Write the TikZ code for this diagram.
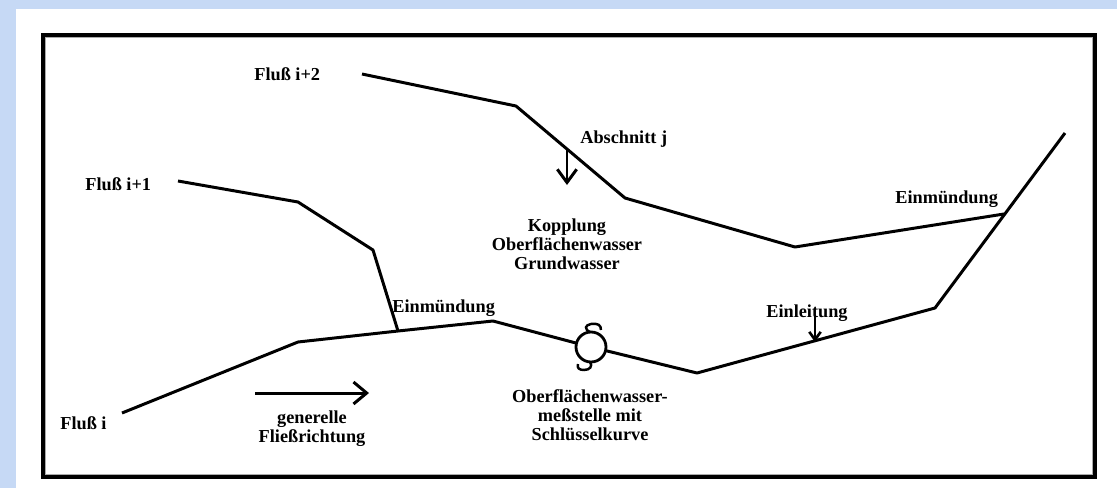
\documentclass[tikz,border=0pt]{standalone}
\usepackage{fontspec}
\setmainfont{Liberation Serif}
\usetikzlibrary{arrows.meta,calc}
\definecolor{rahmenblau}{RGB}{198,217,245}
\definecolor{schatten}{RGB}{170,170,170}

\begin{document}
\begin{tikzpicture}[x=0.02cm, y=-0.02cm,
    font=\fontsize{10.4}{10.8}\selectfont\bfseries,
    fluss/.style={line width=1.7pt, line join=round},
    beschr/.style={inner sep=0pt, align=center},
    pfeil/.style={line width=1.7pt, -{Straight Barb[length=7.5pt,width=12.5pt,line width=1.7pt]}}]
        % Hintergrund und Rahmen
        \fill[rahmenblau] (0,0) rectangle (1117,488);
        \fill[white] (16,9) rectangle (1117,488);
        \draw[schatten, line width=0.7pt] (45.5,37.5) rectangle (1092.5,474.5);
        \draw[line width=2.2pt] (43,35) rectangle (1095,477);
        % Knickpunkte der Fluesse
        \coordinate (m1) at (122,413);
        \coordinate (m2) at (298,342);
        \coordinate (em1) at (398,331);
        \coordinate (m3) at (493,321);
        \coordinate (pegel) at (591,347);
        \coordinate (m4) at (697,373);
        \coordinate (m5) at (935,308);
        \coordinate (m6) at (1065,133);
        \coordinate (em2) at (1004,214);
        % Fluss i (Hauptlauf)
        \draw[fluss] (m1) -- (m2) -- (em1) -- (m3) -- ($(pegel)!0.3cm!(m3)$);
        \draw[fluss] ($(pegel)!0.3cm!(m4)$) -- (m4) -- (m5) -- (m6);
        % Fluss i+1
        \draw[fluss] (178,181) -- (298,202) -- (373,250) -- (em1);
        % Fluss i+2
        \draw[fluss] (362,74) -- (516,106) -- (625,198) -- (795,247) -- (em2);
        % Pegel mit Schluesselkurve
        \draw[line width=1.6pt] (pegel) circle (15);
        \draw[line width=1.4pt] (590,332) .. controls (584,329) and (585,325) .. (591,324)
              .. controls (598,323) and (601,325) .. (601,330);
        \draw[line width=1.4pt] (590,362) .. controls (593,366) and (590,370) .. (584,370)
              .. controls (579,370) and (577,368) .. (578,364);
        % Pfeile
        \coordinate (ab0) at (567,149);
        \coordinate (ab1) at (567,185);
        \draw[line width=1.7pt, -{Straight Barb[length=7.5pt,width=11pt,line width=1.7pt]}] (ab0) -- (ab1);
        \coordinate (ein0) at (815,316);
        \coordinate (ein1) at (815,342);
        \draw[line width=1.5pt, -{Straight Barb[length=4.5pt,width=6.5pt,line width=1.5pt]}] (ein0) -- (ein1);
        \coordinate (fr0) at (255,393);
        \coordinate (fr1) at (369,393);
        \draw[pfeil] (fr0) -- (fr1);
        % Beschriftungen
        \node[beschr, anchor=west] (fi2) at (254,74) {Fluß i+2};
        \node[beschr, anchor=west] (fi1) at (85,184) {Fluß i+1};
        \node[beschr, anchor=west] (fi) at (60,423) {Fluß i};
        \node[beschr, anchor=west] (abs) at (580,139) {Abschnitt j};
        \node[beschr] (kopp) at (567,244) {Kopplung\\Oberflächenwasser\\Grundwasser};
        \node[beschr, anchor=west] (einm1) at (392,308) {Einmündung};
        \node[beschr, anchor=west] (einm2) at (895,199) {Einmündung};
        \node[beschr, anchor=west] (einl) at (766,313) {Einleitung};
        \node[beschr] (gfr) at (312,429) {generelle\\Fließrichtung};
        \node[beschr] (mess) at (590,415) {Oberflächenwasser-\\meßstelle mit\\Schlüsselkurve};
      \end{tikzpicture}
\end{document}
